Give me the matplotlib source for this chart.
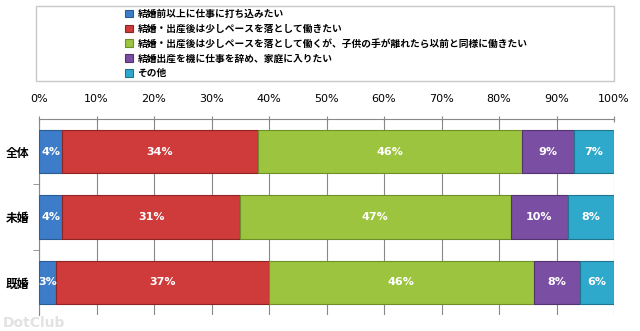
import matplotlib.pyplot as plt
from matplotlib.patches import Rectangle
import numpy as np

plt.rcParams["font.family"] = ["Noto Sans CJK JP", "DejaVu Sans"]

groups = ["全体", "未婚", "既婚"]
series = [
    "結婚前以上に仕事に打ち込みたい",
    "結婚・出産後は少しペースを落として働きたい",
    "結婚・出産後は少しペースを落として働くが、子供の手が離れたら以前と同様に働きたい",
    "結婚出産を機に仕事を辞め、家庭に入りたい",
    "その他",
]
values = [
    [4, 4, 3],
    [34, 31, 37],
    [46, 47, 46],
    [9, 10, 8],
    [7, 8, 6],
]
colors = ["#3d7cc9", "#cf3a3a", "#9cc43e", "#7a4ea2", "#2ea8cb"]
edges = ["#2b5c96", "#8f2424", "#6f8f2a", "#54346f", "#1f7590"]

fig = plt.figure(figsize=(6.4, 3.31), dpi=100)
ax = fig.add_axes([39 / 640, 1 - 315 / 331, 575 / 640, 196 / 331])

y = np.arange(len(groups))
left = np.zeros(len(groups))
handles = []
for vals, name, c, ec in zip(values, series, colors, edges):
    vals = np.array(vals, dtype=float)
    bars = ax.barh(y, vals, left=left, height=0.66, color=c, edgecolor=ec,
                   linewidth=0.8, label=name, zorder=3)
    handles.append(bars)
    for yi, v, l in zip(y, vals, left):
        ax.text(l + v / 2, yi, f"{int(v)}%", ha="center", va="center",
                color="white", fontsize=8, fontweight="bold",
                family="DejaVu Sans", zorder=4)
    left += vals

ax.set_xlim(0, 100)
ax.set_ylim(len(groups) - 0.5, -0.5)
ax.xaxis.tick_top()
ax.set_xticks(np.arange(0, 101, 10))
ax.set_xticklabels([f"{t}%" for t in range(0, 101, 10)], family="DejaVu Sans",
                   fontsize=8)
ax.tick_params(axis="x", length=4, color="#888888", pad=9, direction="inout")
ax.set_yticks(y)
ax.set_yticklabels(groups, fontsize=8.5, fontweight="bold")
ax.set_yticks([0.5, 1.5], minor=True)
ax.tick_params(axis="y", which="major", length=0, pad=7)
ax.tick_params(axis="y", which="minor", length=4, color="#888888")
ax.grid(axis="x", color="#888888", linewidth=0.8, zorder=0)
for s in ["right", "bottom"]:
    ax.spines[s].set_visible(False)
for s in ["top", "left"]:
    ax.spines[s].set_color("#888888")

fig.patches.append(Rectangle((36 / 640, 1 - 81 / 331), 578 / 640, 75 / 331,
                             transform=fig.transFigure, fill=False,
                             edgecolor="#c8c8c8", linewidth=1))
fig.legend(handles=handles, loc="upper left",
           bbox_to_anchor=(117 / 640, 1 - 1 / 331), frameon=False,
           prop={"weight": "bold", "size": 7},
           handlelength=0.8, handleheight=0.8, handletextpad=0.5,
           labelspacing=0.5, borderpad=0.3)

fig.text(0.004, 0.012, "DotClub", fontsize=10, color="#e2e2e2",
         family="DejaVu Sans", fontweight="bold")

fig.savefig("out.png", dpi=100)
